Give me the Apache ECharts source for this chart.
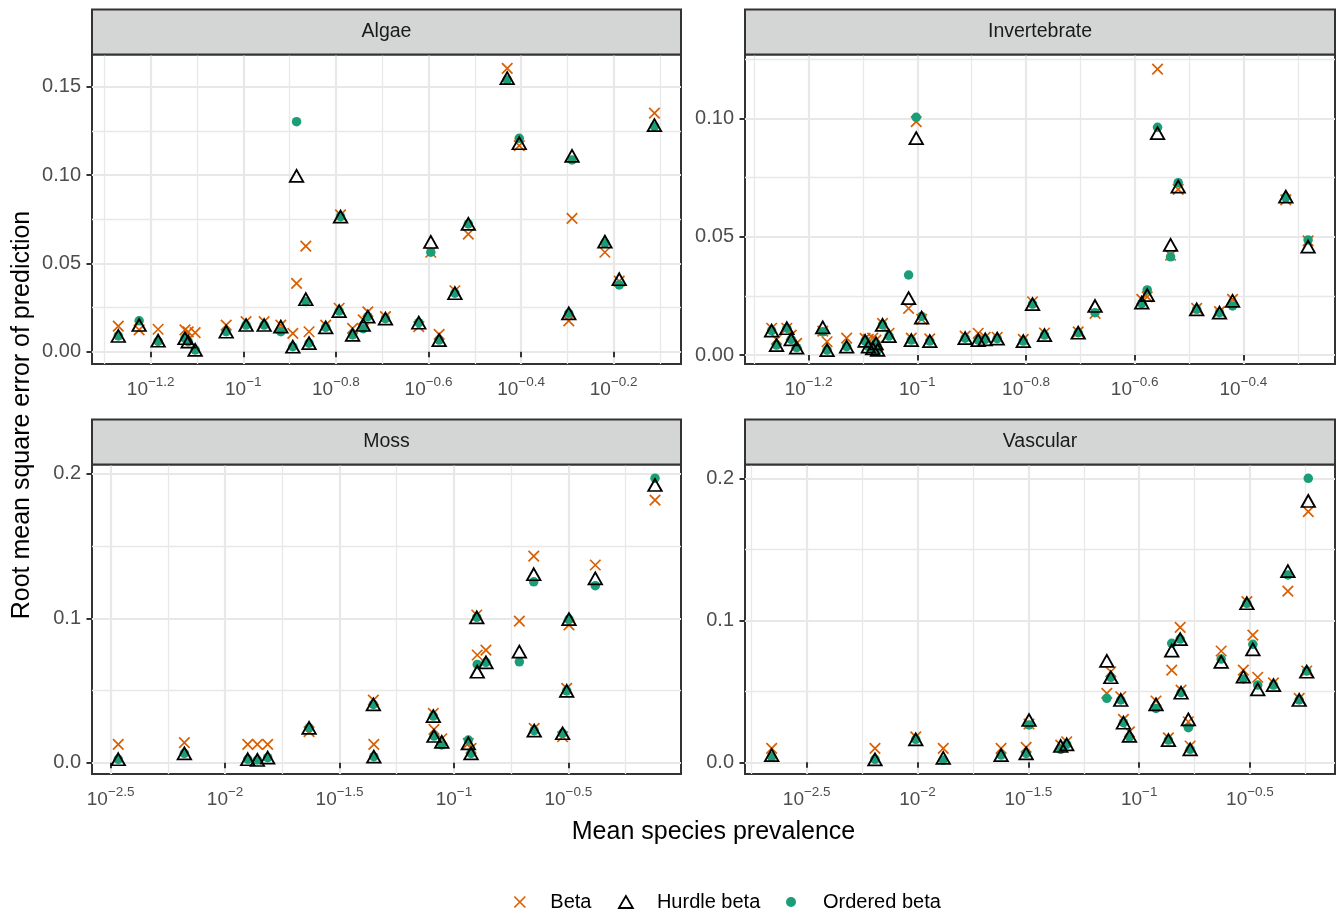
<!DOCTYPE html>
<html><head><meta charset="utf-8">
<script src="https://cdn.jsdelivr.net/npm/echarts@6/dist/echarts.min.js"></script>
<style>html,body{margin:0;padding:0;background:#fff}#c{width:1338px;height:913px}</style>
</head><body><div id="c"></div>
<script>
// ---------- data (x = log10 of mean species prevalence) ----------
const algaeLogPrev = [-1.270,-1.225,-1.184,-1.126,-1.119,-1.104,-1.037,-0.994,-0.955,-0.919,-0.893,-0.885,-0.865,-0.858,-0.822,-0.793,-0.790,-0.764,-0.741,-0.731,-0.693,-0.621,-0.595,-0.577,-0.543,-0.514,-0.430,-0.404,-0.297,-0.290,-0.219,-0.188,-0.112];
const algaeBeta    = [0.0145,0.0123,0.0127,0.0123,0.0112,0.0108,0.0151,0.0170,0.0170,0.0151,0.0104,0.0387,0.0598,0.0113,0.0151,0.0246,0.0774,0.0132,0.0180,0.0226,0.0198,0.0142,0.0563,0.0098,0.0345,0.0666,0.1604,0.1166,0.0175,0.0755,0.0563,0.0400,0.1350];
const algaeHurdle  = [0.0089,0.0151,0.0062,0.0076,0.0057,0.0010,0.0113,0.0151,0.0151,0.0142,0.0028,0.0995,0.0297,0.0048,0.0138,0.0230,0.0764,0.0095,0.0151,0.0198,0.0187,0.0164,0.0621,0.0066,0.0331,0.0723,0.1548,0.1180,0.0217,0.1108,0.0623,0.0410,0.1283];
const algaeOrdered = [0.0089,0.0175,0.0058,0.0076,0.0057,0.0010,0.0113,0.0151,0.0151,0.0113,0.0028,0.1302,0.0284,0.0048,0.0138,0.0230,0.0764,0.0095,0.0130,0.0198,0.0187,0.0164,0.0563,0.0066,0.0331,0.0723,0.1538,0.1208,0.0217,0.1085,0.0615,0.0378,0.1275];

const invertLogPrev = [-1.268,-1.259,-1.240,-1.232,-1.222,-1.174,-1.166,-1.130,-1.096,-1.090,-1.082,-1.076,-1.073,-1.064,-1.052,-1.016,-1.011,-1.002,-0.992,-0.977,-0.912,-0.888,-0.875,-0.853,-0.805,-0.788,-0.766,-0.704,-0.673,-0.587,-0.577,-0.558,-0.534,-0.520,-0.486,-0.444,-0.420,-0.322,-0.281];
const invertBeta    = [0.0113,0.0066,0.0113,0.0084,0.0049,0.0101,0.0056,0.0071,0.0070,0.0066,0.0071,0.0063,0.0040,0.0134,0.0092,0.0197,0.0071,0.0986,0.0151,0.0068,0.0080,0.0092,0.0075,0.0075,0.0066,0.0225,0.0093,0.0098,0.0176,0.0235,0.0246,0.1208,0.0422,0.0700,0.0197,0.0183,0.0235,0.0655,0.0482];
const invertHurdle  = [0.0103,0.0042,0.0113,0.0066,0.0031,0.0117,0.0021,0.0035,0.0060,0.0035,0.0028,0.0049,0.0022,0.0127,0.0080,0.0240,0.0063,0.0916,0.0158,0.0059,0.0071,0.0063,0.0066,0.0069,0.0059,0.0215,0.0084,0.0094,0.0207,0.0221,0.0253,0.0937,0.0465,0.0711,0.0193,0.0179,0.0229,0.0669,0.0458];
const invertOrdered = [0.0103,0.0042,0.0113,0.0066,0.0031,0.0098,0.0021,0.0035,0.0060,0.0035,0.0028,0.0049,0.0022,0.0127,0.0080,0.0338,0.0063,0.1004,0.0163,0.0059,0.0071,0.0063,0.0066,0.0069,0.0059,0.0215,0.0084,0.0094,0.0179,0.0218,0.0275,0.0962,0.0415,0.0728,0.0193,0.0179,0.0207,0.0666,0.0486];

const mossLogPrev = [-2.467,-2.178,-1.901,-1.859,-1.814,-1.633,-1.352,-1.350,-1.090,-1.087,-1.053,-0.937,-0.925,-0.900,-0.898,-0.860,-0.714,-0.651,-0.649,-0.525,-0.507,-0.497,-0.382,-0.121];
const mossBeta    = [0.0127,0.0139,0.0127,0.0127,0.0127,0.0215,0.0434,0.0127,0.0342,0.0231,0.0166,0.0134,0.0100,0.1023,0.0746,0.0780,0.0981,0.1431,0.0238,0.0180,0.0515,0.0954,0.1369,0.1819];
const mossHurdle  = [0.0024,0.0065,0.0024,0.0019,0.0035,0.0242,0.0404,0.0042,0.0323,0.0185,0.0145,0.0134,0.0065,0.1007,0.0630,0.0695,0.0769,0.1305,0.0222,0.0204,0.0497,0.0995,0.1277,0.1923];
const mossOrdered = [0.0024,0.0065,0.0024,0.0019,0.0035,0.0242,0.0404,0.0042,0.0323,0.0185,0.0123,0.0157,0.0065,0.1007,0.0681,0.0695,0.0699,0.1253,0.0222,0.0204,0.0497,0.0995,0.1226,0.1970];

const vascLogPrev = [-2.658,-2.192,-2.008,-1.884,-1.623,-1.510,-1.497,-1.354,-1.327,-1.146,-1.128,-1.083,-1.071,-1.044,-0.924,-0.868,-0.853,-0.815,-0.811,-0.778,-0.770,-0.630,-0.530,-0.514,-0.487,-0.465,-0.394,-0.329,-0.278,-0.244,-0.237];
const vascBeta    = [0.0099,0.0099,0.0180,0.0099,0.0099,0.0106,0.0270,0.0122,0.0145,0.0486,0.0638,0.0462,0.0303,0.0215,0.0432,0.0173,0.0650,0.0951,0.0509,0.0286,0.0115,0.0784,0.0650,0.1131,0.0896,0.0599,0.0560,0.1206,0.0451,0.0643,0.1765];
const vascHurdle  = [0.0051,0.0021,0.0162,0.0032,0.0051,0.0063,0.0298,0.0115,0.0127,0.0715,0.0599,0.0439,0.0279,0.0187,0.0408,0.0157,0.0786,0.0868,0.0490,0.0303,0.0092,0.0708,0.0603,0.1120,0.0796,0.0514,0.0544,0.1347,0.0439,0.0638,0.1840];
const vascOrdered = [0.0039,0.0021,0.0162,0.0016,0.0051,0.0063,0.0263,0.0092,0.0127,0.0451,0.0599,0.0439,0.0279,0.0180,0.0380,0.0157,0.0838,0.0868,0.0490,0.0244,0.0092,0.0727,0.0587,0.1120,0.0831,0.0544,0.0544,0.1319,0.0439,0.0643,0.2000];

// ---------- tick labels ----------
const algaeXTicks = [-1.2,-1,-0.8,-0.6,-0.4,-0.2];
const algaeXMinor = [-1.3,-1.1,-0.9,-0.7,-0.5,-0.3,-0.1];
const algaeYTicks = [0,0.05,0.10,0.15];
const algaeYMinor = [0.025,0.075,0.125];
const invertXTicks = [-1.2,-1,-0.8,-0.6,-0.4];
const invertXMinor = [-1.3,-1.1,-0.9,-0.7,-0.5,-0.3];
const invertYTicks = [0,0.05,0.10];
const invertYMinor = [0.025,0.075,0.125];
const mossXTicks = [-2.5,-2,-1.5,-1,-0.5];
const mossXMinor = [-2.25,-1.75,-1.25,-0.75,-0.25];
const mossYTicks = [0,0.1,0.2];
const mossYMinor = [0.05,0.15];
const vascXTicks = [-2.5,-2,-1.5,-1,-0.5];
const vascXMinor = [-2.75,-2.25,-1.75,-1.25,-0.75,-0.25];
const vascYTicks = [0,0.1,0.2];
const vascYMinor = [0.05,0.15];

const seriesNames = ['Beta','Hurdle beta','Ordered beta'];
const panelNames = ['Algae','Invertebrate','Moss','Vascular'];

// ---------- layout / style ----------
const FONT = '"Liberation Sans", Arial, Helvetica, sans-serif';
const COL_BETA = '#D95F02', COL_ORD = '#1B9E77';
const CROSS = 'path://M0,0L10,10M10,0L0,10';
const panels = [
  {name:panelNames[0], rect:{left:92, top:54.5, width:589, height:309.5}, xr:[-1.3268,-0.0546], yr:[-0.00696,0.16822], xt:algaeXTicks, xm:algaeXMinor, yt:algaeYTicks, ym:algaeYMinor, yd:2, x:algaeLogPrev, b:algaeBeta, h:algaeHurdle, o:algaeOrdered},
  {name:panelNames[1], rect:{left:745, top:54.5, width:590, height:309.5}, xr:[-1.317,-0.2315], yr:[-0.0038,0.12695], xt:invertXTicks, xm:invertXMinor, yt:invertYTicks, ym:invertYMinor, yd:2, x:invertLogPrev, b:invertBeta, h:invertHurdle, o:invertOrdered},
  {name:panelNames[2], rect:{left:92, top:464.5, width:589, height:309.5}, xr:[-2.5817,-0.0074], yr:[-0.0078,0.2065], xt:mossXTicks, xm:mossXMinor, yt:mossYTicks, ym:mossYMinor, yd:1, x:mossLogPrev, b:mossBeta, h:mossHurdle, o:mossOrdered},
  {name:panelNames[3], rect:{left:745, top:464.5, width:590, height:309.5}, xr:[-2.7784,-0.1164], yr:[-0.0082,0.2097], xt:vascXTicks, xm:vascXMinor, yt:vascYTicks, ym:vascYMinor, yd:1, x:vascLogPrev, b:vascBeta, h:vascHurdle, o:vascOrdered}
];

function expLabel(v){ return (Math.round(v*100)/100).toString().replace('-', '\u2212'); }

const grids = [], xAxes = [], yAxes = [], series = [], graphics = [];
const tickStyle = {show:true, length:5.5, lineStyle:{color:'#333333', width:2}};
const GRID_COL = '#E8E8E8';
panels.forEach((p, i) => {
  grids.push(Object.assign({show:true, borderColor:'#333333', borderWidth:2, backgroundColor:'#fff', containLabel:false}, p.rect));
});
panels.forEach((p, i) => {
  xAxes.push({type:'value', gridIndex:i, min:p.xr[0], max:p.xr[1], position:'bottom',
    axisLine:{show:false},
    axisTick:Object.assign({customValues:p.xt}, tickStyle),
    axisLabel:{customValues:p.xt, margin:15, hideOverlap:false,
      formatter:v => '{b|10}{s|' + expLabel(v) + '}',
      rich:{ b:{fontSize:19, fontFamily:FONT, color:'#4D4D4D', lineHeight:20, verticalAlign:'bottom'},
             s:{fontSize:13.5, fontFamily:FONT, color:'#4D4D4D', lineHeight:14, padding:[0,0,10,0], verticalAlign:'bottom'} }},
    splitLine:{show:true, lineStyle:{color:GRID_COL, width:2.2}}
  });
  yAxes.push({type:'value', gridIndex:i, min:p.yr[0], max:p.yr[1],
    axisLine:{show:false},
    axisTick:Object.assign({customValues:p.yt}, tickStyle),
    axisLabel:{customValues:p.yt, margin:11, fontSize:20, fontFamily:FONT, color:'#4D4D4D',
      formatter:v => v.toFixed(p.yd)},
    splitLine:{show:true, lineStyle:{color:GRID_COL, width:2.2}}
  });
});
panels.forEach((p, i) => {
  xAxes.push({type:'value', gridIndex:i, min:p.xr[0], max:p.xr[1], axisLine:{show:false},
    axisTick:{show:false, customValues:p.xm}, axisLabel:{show:false},
    splitLine:{show:true, lineStyle:{color:GRID_COL, width:1.3}}});
  yAxes.push({type:'value', gridIndex:i, min:p.yr[0], max:p.yr[1], axisLine:{show:false},
    axisTick:{show:false, customValues:p.ym}, axisLabel:{show:false},
    splitLine:{show:true, lineStyle:{color:GRID_COL, width:1.3}}});
});
panels.forEach((p, i) => {
  const base = {type:'scatter', xAxisIndex:i, yAxisIndex:i, silent:true, animation:false, emphasis:{disabled:true}};
  series.push(Object.assign({}, base, {name:seriesNames[0], z:2, symbol:CROSS, symbolSize:10.5,
    itemStyle:{color:'transparent', borderColor:COL_BETA, borderWidth:1.7, opacity:1},
    data:p.x.map((v,k)=>[v, p.b[k]])}));
  series.push(Object.assign({}, base, {name:seriesNames[2], z:3, symbol:'circle', symbolSize:9.5,
    itemStyle:{color:COL_ORD, opacity:1},
    data:p.x.map((v,k)=>[v, p.o[k]])}));
  series.push(Object.assign({}, base, {name:seriesNames[1], z:4, symbol:'triangle', symbolSize:[13.5,12],
    itemStyle:{color:'transparent', borderColor:'#000', borderWidth:1.8, opacity:1},
    data:p.x.map((v,k)=>[v, p.h[k]])}));
  // facet strip
  const r = p.rect;
  graphics.push({type:'rect', z:10, shape:{x:r.left, y:r.top-45, width:r.width, height:45},
    style:{fill:'#D4D5D5', stroke:'#333333', lineWidth:2}});
  graphics.push({type:'text', z:11, x:r.left + r.width/2, y:r.top-22.5,
    style:{text:p.name, font:'19.5px ' + FONT, fill:'#1A1A1A', align:'center', verticalAlign:'middle'}});
});
graphics.push({type:'text', x:713.5, y:832, style:{text:'Mean species prevalence', font:'25px ' + FONT, fill:'#000', align:'center', verticalAlign:'middle'}});
graphics.push({type:'text', x:22, y:415, rotation:Math.PI/2, style:{text:'Root mean square error of prediction', font:'25px ' + FONT, fill:'#000', align:'center', verticalAlign:'middle'}});

const legendText = {fontSize:20, fontFamily:FONT, color:'#000'};
const legends = [
  {data:[seriesNames[0]], left:508.5, top:887, itemWidth:11, itemHeight:11, selectedMode:false,
   itemStyle:{color:'transparent', borderColor:COL_BETA, borderWidth:1.7, opacity:1}, textStyle:Object.assign({padding:[0,0,0,20]}, legendText)},
  {data:[seriesNames[1]], left:613, top:887, itemWidth:14, itemHeight:12, selectedMode:false,
   itemStyle:{color:'transparent', borderColor:'#000', borderWidth:1.8, opacity:1}, textStyle:Object.assign({padding:[0,0,0,19]}, legendText)},
  {data:[seriesNames[2]], left:781, top:887, itemWidth:10, itemHeight:10, selectedMode:false,
   itemStyle:{color:COL_ORD, opacity:1}, textStyle:Object.assign({padding:[0,0,0,22]}, legendText)}
];

const chart = echarts.init(document.getElementById('c'), null, {renderer:'canvas'});
chart.setOption({
  animation:false, backgroundColor:'#fff',
  grid:grids, xAxis:xAxes, yAxis:yAxes, series:series, legend:legends, graphic:graphics
});
</script></body></html>
